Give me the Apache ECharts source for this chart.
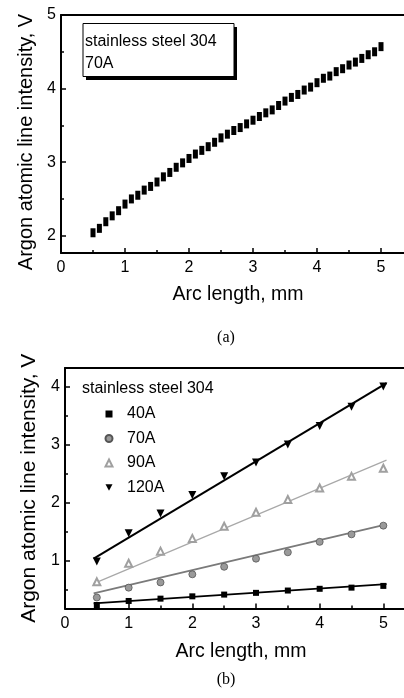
<!DOCTYPE html>
<html>
<head>
<meta charset="utf-8">
<script src="https://cdn.jsdelivr.net/npm/echarts@6/dist/echarts.min.js"></script>
<style>
  html, body { margin: 0; padding: 0; background: #fff; }
  #chart { width: 404px; height: 698px; }
</style>
</head>
<body>
<div id="chart"></div>
<script>
  // (a) stainless steel 304, 70A
  let arcA = [0.5, 0.6, 0.7, 0.8, 0.9, 1.0, 1.1, 1.2, 1.3, 1.4, 1.5, 1.6, 1.7, 1.8, 1.9,
    2.0, 2.1, 2.2, 2.3, 2.4, 2.5, 2.6, 2.7, 2.8, 2.9, 3.0, 3.1, 3.2, 3.3, 3.4, 3.5,
    3.6, 3.7, 3.8, 3.9, 4.0, 4.1, 4.2, 4.3, 4.4, 4.5, 4.6, 4.7, 4.8, 4.9, 5.0]
  let intensityA = [2.04, 2.10, 2.19, 2.27, 2.34, 2.43, 2.50, 2.55, 2.62, 2.67, 2.73,
    2.80, 2.86, 2.93, 2.99, 3.05, 3.11, 3.16, 3.21, 3.27, 3.33, 3.38, 3.43, 3.47, 3.52,
    3.57, 3.62, 3.67, 3.71, 3.77, 3.83, 3.88, 3.92, 3.98, 4.02, 4.08, 4.14, 4.17, 4.23,
    4.27, 4.32, 4.36, 4.41, 4.46, 4.50, 4.57]

  // (b) four currents
  let arcB = [0.5, 1.0, 1.5, 2.0, 2.5, 3.0, 3.5, 4.0, 4.5, 5.0]
  let i40 = [0.23, 0.30, 0.34, 0.38, 0.41, 0.44, 0.48, 0.51, 0.53, 0.56]
  let i70 = [0.36, 0.53, 0.62, 0.76, 0.89, 1.03, 1.14, 1.32, 1.45, 1.60]
  let i90 = [0.63, 0.95, 1.16, 1.38, 1.59, 1.83, 2.05, 2.25, 2.45, 2.59]
  let i120 = [0.98, 1.47, 1.81, 2.13, 2.45, 2.69, 3.00, 3.32, 3.65, 4.00]

  // linear fits, end points
  let fitX = [0.45, 5.05]
  let fit40 = [0.26, 0.59]
  let fit70 = [0.43, 1.62]
  let fit90 = [0.60, 2.73]
  let fit120 = [1.03, 4.06]

  let ticksA = [2, 3, 4, 5]
  let minorA = [2.5, 3.5, 4.5]
  let ticksB = [1, 2, 3, 4]
  let minorB = [0.5, 1.5, 2.5, 3.5]

  let sans = 'Liberation Sans'
  let pairs = (xs, ys) => xs.map((x, i) => [x, ys[i]])

  let chart = echarts.init(document.getElementById('chart'))

  let bottomAxis = function (gridIndex, gap) {
    return {
      type: 'value',
      gridIndex: gridIndex,
      position: 'bottom',
      min: 0,
      max: 6,
      interval: 1,
      name: 'Arc length, mm',
      nameLocation: 'middle',
      nameGap: gap,
      // the plot runs past the right edge, so pull the name back to the visible middle
      nameTextStyle: { fontFamily: sans, fontSize: 19.5, color: '#000', padding: [0, 30, 0, 0] },
      axisLine: { lineStyle: { color: '#000', width: 2 } },
      axisTick: { inside: true, length: 5, lineStyle: { color: '#000', width: 1.5 } },
      minorTick: { show: true, splitNumber: 2, length: 3, lineStyle: { color: '#000', width: 1.5 } },
      axisLabel: { margin: 7, fontFamily: sans, fontSize: 16, color: '#000' },
      splitLine: { show: false }
    }
  }
  let topAxis = function (gridIndex) {
    return {
      type: 'value',
      gridIndex: gridIndex,
      position: 'top',
      min: 0,
      max: 6,
      axisLine: { lineStyle: { color: '#000', width: 2 } },
      axisTick: { show: false },
      axisLabel: { show: false },
      splitLine: { show: false }
    }
  }
  let leftAxis = function (gridIndex, min, max, ticks, gap, size, pad) {
    return {
      type: 'value',
      gridIndex: gridIndex,
      position: 'left',
      min: min,
      max: max,
      name: 'Argon atomic line intensity, V',
      nameLocation: 'middle',
      nameGap: gap,
      nameTextStyle: { fontFamily: sans, fontSize: size, color: '#000', padding: pad },
      axisLine: { lineStyle: { color: '#000', width: 2 } },
      axisTick: { inside: true, length: 5, customValues: ticks, lineStyle: { color: '#000', width: 1.5 } },
      axisLabel: { margin: 5, customValues: ticks, fontFamily: sans, fontSize: 16, color: '#000' },
      splitLine: { show: false }
    }
  }
  let minorAxis = function (gridIndex, min, max, ticks) {
    return {
      type: 'value',
      gridIndex: gridIndex,
      position: 'left',
      min: min,
      max: max,
      axisLine: { show: false },
      axisTick: { inside: true, length: 3, customValues: ticks, lineStyle: { color: '#000', width: 1.5 } },
      axisLabel: { show: false },
      splitLine: { show: false }
    }
  }

  let fitLine = function (name, ys, color, width) {
    return {
      name: name,
      type: 'line',
      xAxisIndex: 2,
      yAxisIndex: 2,
      data: pairs(fitX, ys),
      symbol: 'none',
      lineStyle: { color: color, width: width },
      z: 1
    }
  }

  let options = {
    animation: false,
    grid: [
      { left: 61, top: 15, width: 384, height: 238, outerBoundsMode: 'none' },
      { left: 65, top: 368, width: 382, height: 240.5, outerBoundsMode: 'none' }
    ],
    xAxis: [bottomAxis(0, 32), topAxis(0), bottomAxis(1, 33), topAxis(1)],
    yAxis: [
      leftAxis(0, 1.765, 5, ticksA, 23, 20, [0, 16, 0, 0]),
      minorAxis(0, 1.765, 5, minorA),
      leftAxis(1, 0.17, 4.32, ticksB, 24, 21, 0),
      minorAxis(1, 0.17, 4.32, minorB)
    ],
    legend: {
      orient: 'vertical',
      left: 99.5,
      top: 400,
      itemWidth: 7,
      itemHeight: 7,
      itemGap: 6.5,
      data: [
        { name: '40A', icon: 'rect' },
        { name: '70A' },
        { name: '90A' },
        { name: '120A', icon: 'path://M0,0 L10,0 L5,9 Z' }
      ],
      textStyle: { fontFamily: sans, fontSize: 16, color: '#000', lineHeight: 18, padding: [0, 0, 0, 9.5] }
    },
    graphic: [
      { type: 'rect', shape: { x: 86, y: 27, width: 151, height: 53 }, style: { fill: '#000' } },
      { type: 'rect', shape: { x: 83, y: 23.5, width: 151, height: 53 }, style: { fill: '#fff', stroke: '#000', lineWidth: 1 } },
      { type: 'text', style: { text: 'stainless steel 304', x: 85, y: 41.5, verticalAlign: 'middle', font: '16px "Liberation Sans"', fill: '#000' } },
      { type: 'text', style: { text: '70A', x: 85, y: 63.5, verticalAlign: 'middle', font: '16px "Liberation Sans"', fill: '#000' } },
      { type: 'text', style: { text: 'stainless steel 304', x: 82, y: 389, verticalAlign: 'middle', font: '16px "Liberation Sans"', fill: '#000' } },
      { type: 'text', style: { text: '(a)', x: 226, y: 338, align: 'center', verticalAlign: 'middle', font: '16px "Liberation Serif"', fill: '#000' } },
      { type: 'text', style: { text: '(b)', x: 226, y: 680, align: 'center', verticalAlign: 'middle', font: '16px "Liberation Serif"', fill: '#000' } }
    ],
    series: [
      {
        name: '70A (a)',
        type: 'scatter',
        xAxisIndex: 0,
        yAxisIndex: 0,
        data: pairs(arcA, intensityA),
        symbol: 'rect',
        symbolSize: [5, 9],
        itemStyle: { color: '#000', opacity: 1 }
      },
      fitLine('40A fit', fit40, '#000', 1.8),
      fitLine('70A fit', fit70, '#7a7a7a', 1.8),
      fitLine('90A fit', fit90, '#a8a8a8', 1.2),
      fitLine('120A fit', fit120, '#000', 2),
      {
        name: '40A',
        type: 'scatter',
        xAxisIndex: 2,
        yAxisIndex: 2,
        data: pairs(arcB, i40),
        symbol: 'rect',
        symbolSize: 6,
        itemStyle: { color: '#000', opacity: 1 }
      },
      {
        name: '70A',
        type: 'scatter',
        xAxisIndex: 2,
        yAxisIndex: 2,
        data: pairs(arcB, i70),
        symbol: 'circle',
        symbolSize: 7,
        itemStyle: { color: '#9a9a9a', borderColor: '#555', borderWidth: 0.8, opacity: 1 }
      },
      {
        name: '90A',
        type: 'scatter',
        xAxisIndex: 2,
        yAxisIndex: 2,
        data: pairs(arcB, i90),
        symbol: 'emptyTriangle',
        symbolSize: 7,
        itemStyle: { color: '#a0a0a0', borderWidth: 1, opacity: 1 }
      },
      {
        name: '120A',
        type: 'scatter',
        xAxisIndex: 2,
        yAxisIndex: 2,
        data: pairs(arcB, i120),
        symbol: 'triangle',
        symbolRotate: 180,
        symbolSize: 8,
        itemStyle: { color: '#000', opacity: 1 }
      }
    ]
  }
  chart.setOption(options)
</script>
</body>
</html>
